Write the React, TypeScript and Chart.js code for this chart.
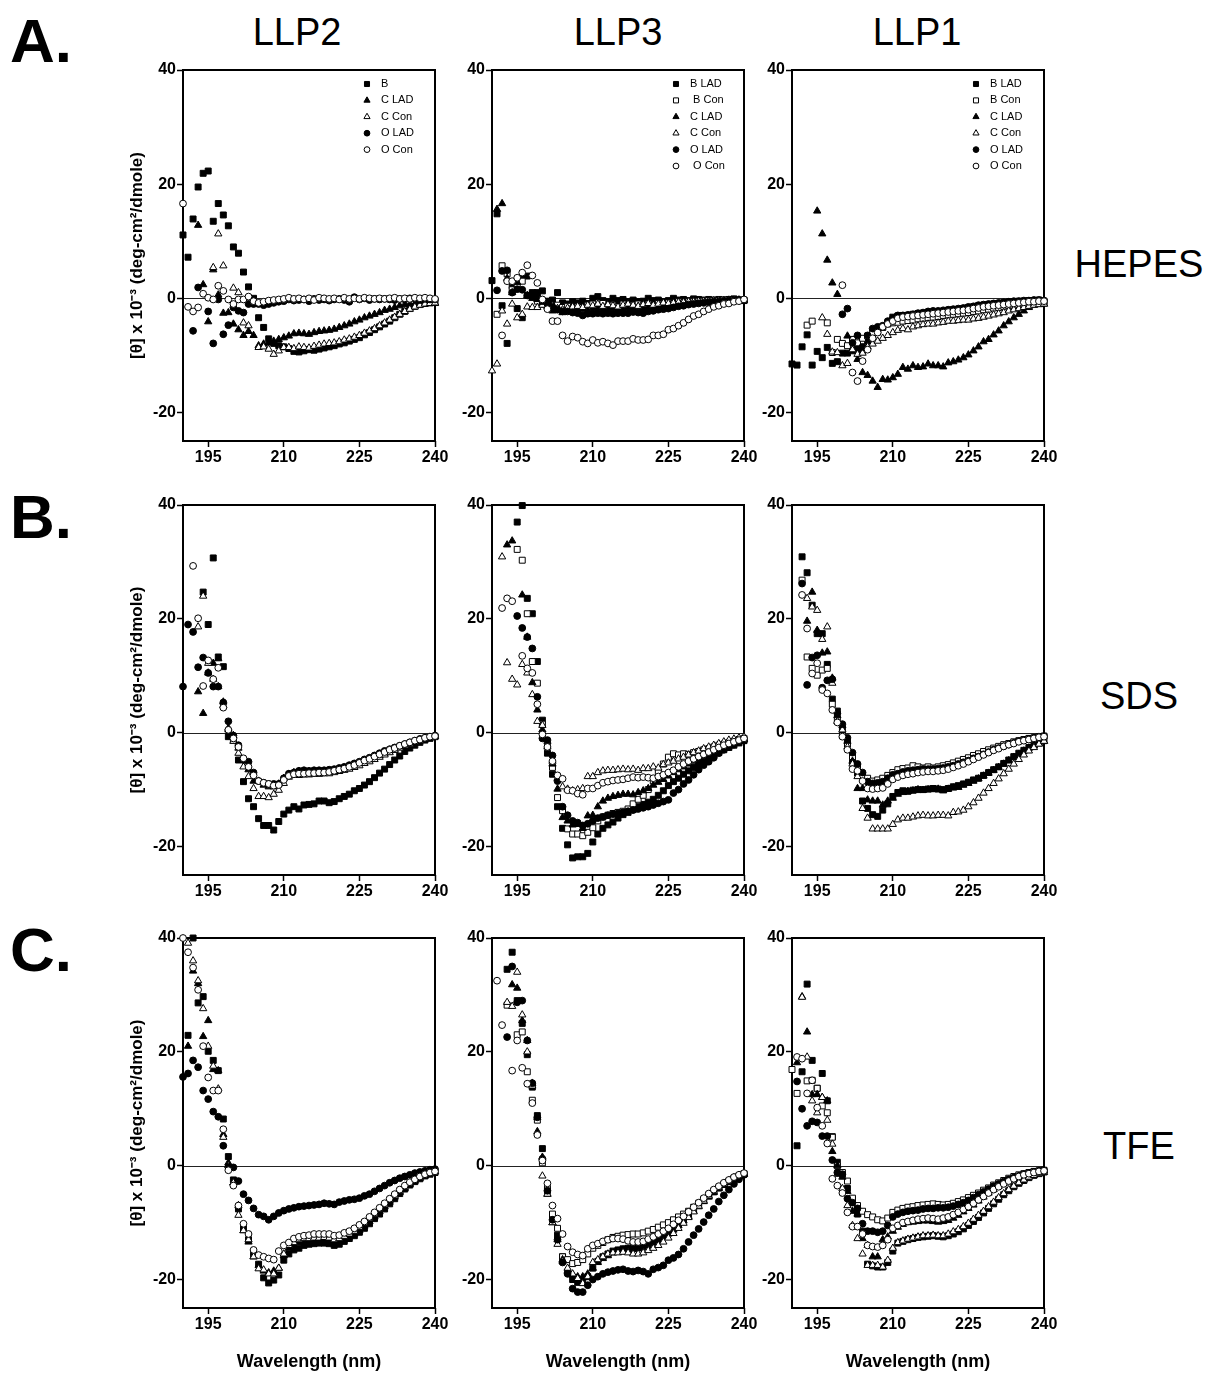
import React, { useEffect, useRef } from 'react';
import { Chart, registerables } from 'chart.js';
import { drawPoint } from 'chart.js/helpers';

Chart.register(...registerables);

const _ = null;

// ---------- categories / ticks / labels ----------
const WAVELENGTH = [
  190, 191, 192, 193, 194, 195, 196, 197, 198, 199,
  200, 201, 202, 203, 204, 205, 206, 207, 208, 209,
  210, 211, 212, 213, 214, 215, 216, 217, 218, 219,
  220, 221, 222, 223, 224, 225, 226, 227, 228, 229,
  230, 231, 232, 233, 234, 235, 236, 237, 238, 239,
  240,
];
const X_TICKS = [195, 210, 225, 240];
const Y_TICKS = [-20, 0, 20, 40];
const COLUMN_TITLES = ['LLP2', 'LLP3', 'LLP1'];
const ROW_LETTERS = ['A.', 'B.', 'C.'];
const SOLVENTS = ['HEPES', 'SDS', 'TFE'];
const Y_TITLE = '[\u03b8] x 10\u207b\u00b3 (deg-cm\u00b2/dmole)';
const X_TITLE = 'Wavelength (nm)';
const NAMES_LLP2 = ['B', 'C LAD', 'C Con', 'O LAD', 'O Con'];
const NAMES_LLP3 = ['B LAD', ' B Con', 'C LAD', 'C Con', 'O LAD', ' O Con'];
const NAMES_LLP1 = ['B LAD', 'B Con', 'C LAD', 'C Con', 'O LAD', 'O Con'];

// ---------- A: HEPES ----------
const A1_B = [
  11.1, 7.2, 13.9, 19.5, 21.9, 22.3, 13.5, 16.6, 14.6, 12.7,
  9.0, 7.9, 4.6, 2.0, 0.0, -3.4, -5.1, -7.1, -7.9, -8.3,
  -8.5, -8.8, -9.3, -9.4, -9.2, -9.0, -9.1, -8.9, -8.7, -8.5,
  -8.3, -8.0, -7.8, -7.5, -7.2, -6.9, -6.4, -6.0, -5.5, -5.0,
  -4.5, -4.0, -3.4, -2.8, -2.3, -1.8, -1.4, -1.1, -0.9, -0.8,
  -0.7,
];
const A1_CLAD = [
  _, _, _, 12.8, 2.4, -4.1, 5.0, 0.6, -2.6, -2.5,
  -4.5, -5.5, -6.5, -5.8, -6.5, -8.3, -8.0, -7.8, -7.5, -7.2,
  -6.9, -6.6, -6.2, -6.1, -6.2, -6.3, -6.0, -5.8, -5.7, -5.6,
  -5.4, -5.1, -4.8, -4.5, -4.1, -3.8, -3.4, -3.1, -2.8, -2.5,
  -2.1, -1.9, -1.6, -1.3, -1.1, -1.0, -1.0, -0.9, -0.9, -0.9,
  -0.9,
];
const A1_CCON = [
  _, _, _, _, _, _, 5.4, 11.3, 5.7, _,
  1.8, 1.0, -4.3, -4.8, _, -8.6, -8.5, -8.9, -9.8, -9.2,
  -8.6, -8.6, -8.8, -8.5, -8.6, -8.7, -8.4, -8.2, -8.0, -7.9,
  -7.8, -7.6, -7.3, -7.1, -6.8, -6.5, -6.1, -5.7, -5.3, -4.8,
  -4.3, -3.8, -3.3, -2.8, -2.3, -1.9, -1.5, -1.2, -1.0, -0.9,
  -0.8,
];
const A1_OLAD = [
  _, _, -5.7, 1.9, _, -2.3, -7.9, -0.2, -6.3, -4.7,
  -1.6, -2.2, -2.5, -1.0, -1.0, -1.0, -1.2, -1.0, -0.8, -0.6,
  -0.5, -0.2, -0.4, -0.3, -0.2, -0.5, -0.1, -0.3, -0.2, -0.4,
  -0.2, -0.1, -0.3, -0.6, 0.2, -0.2, 0.0, -0.3, -0.1, -0.2,
  -0.1, -0.2, -0.3, -0.1, -0.2, 0.0, -0.1, -0.3, -0.1, -0.2,
  -0.2,
];
const A1_OCON = [
  16.6, -1.5, -2.3, -1.6, 0.8, 0.1, -0.2, 2.2, 1.3, -0.2,
  -1.0, -0.2, -0.2, 0.3, -0.5, -0.8, -0.6, -0.4, -0.3, -0.2,
  -0.1, 0.1, -0.1, 0.0, -0.2, 0.0, -0.3, 0.1, 0.0, -0.1,
  0.0, -0.2, 0.1, -0.1, 0.0, -0.1, 0.1, 0.0, -0.1, 0.0,
  -0.1, 0.0, 0.1, -0.1, 0.0, -0.1, 0.1, 0.0, 0.1, 0.0,
  -0.1,
];

const A2_BLAD = [
  3.1, 14.8, -1.3, -7.9, 2.2, -1.8, -3.4, 3.9, 1.0, 1.0,
  1.3, -0.5, -0.3, 1.0, -0.8, -1.0, -0.6, -0.8, -0.5, -0.9,
  0.0, 0.3, -0.4, -0.6, 0.0, -0.4, -0.2, -0.6, -0.3, -0.6,
  -0.5, 0.0, -0.4, -0.3, -0.6, -0.4, 0.0, -0.3, -0.2, -0.4,
  -0.1, -0.2, -0.3, -0.2, -0.3, -0.2, -0.3, -0.2, -0.1, -0.3,
  -0.4,
];
const A2_BCON = [
  _, -2.8, 5.7, 4.3, 1.5, 2.3, 3.0, 0.5, 0.3, -0.5,
  -1.0, -1.5, -1.5, -1.2, -1.6, -1.4, -1.8, -1.5, -1.6, -1.2,
  -1.0, -1.4, -0.9, -1.4, -1.2, -1.5, -1.0, -1.3, -1.2, -1.0,
  -1.2, -1.0, -1.4, -0.9, -1.1, -0.8, -0.9, -0.6, -0.8, -0.6,
  -0.6, -0.5, -0.5, -0.4, -0.4, -0.4, -0.3, -0.3, -0.3, -0.3,
  -0.3,
];
const A2_CLAD = [
  _, 15.6, 16.6, 3.5, 1.0, 2.8, 4.0, 0.5, 0.0, -0.2,
  -1.0, -1.3, -2.2, -1.8, -2.5, -2.2, -2.0, -1.8, -2.0, -2.2,
  -1.8, -1.6, -2.0, -1.8, -1.7, -1.9, -2.1, -1.6, -1.8, -1.5,
  -1.7, -1.6, -1.3, -1.5, -1.2, -1.1, -1.2, -0.9, -0.8, -0.8,
  -0.7, -0.6, -0.6, -0.5, -0.5, -0.5, -0.4, -0.4, -0.4, -0.3,
  -0.4,
];
const A2_CCON = [
  -12.7, -11.5, -2.2, -4.5, -1.0, -3.4, -2.8, -1.5, -1.6, -1.6,
  -1.2, -1.5, -1.3, -1.8, -2.0, -1.7, -1.5, -1.4, -1.6, -1.2,
  -1.3, -1.0, -1.4, -1.1, -1.3, -1.5, -1.2, -1.0, -1.2, -1.4,
  -1.1, -0.9, -1.2, -1.0, -0.8, -0.9, -0.8, -0.7, -0.7, -0.6,
  -0.6, -0.5, -0.5, -0.5, -0.4, -0.4, -0.4, -0.3, -0.3, -0.3,
  -0.4,
];
const A2_OLAD = [
  _, 1.4, 4.8, 4.9, 1.0, 1.6, 1.5, 0.5, 0.8, 0.2,
  -0.5, -1.0, -1.5, -2.0, -2.3, -2.3, -2.5, -2.6, -3.0, -2.7,
  -2.7, -2.6, -2.7, -2.6, -2.7, -2.6, -2.6, -2.6, -2.4, -2.5,
  -2.6, -2.3, -2.2, -2.0, -1.9, -1.8, -1.6, -1.4, -1.3, -1.1,
  -1.0, -0.9, -0.8, -0.7, -0.6, -0.6, -0.5, -0.4, -0.4, -0.3,
  -0.4,
];
const A2_OCON = [
  _, _, -6.5, 3.0, 3.0, 3.6, 4.5, 5.8, 4.0, 2.7,
  -0.2, -1.9, -4.0, -4.0, -6.5, -7.5, -6.7, -6.9, -7.6, -7.9,
  -7.3, -7.8, -7.6, -7.9, -8.2, -7.5, -7.5, -7.5, -7.1, -7.3,
  -7.3, -7.2, -6.5, -6.5, -6.3, -5.5, -5.3, -4.8, -4.3, -3.7,
  -3.1, -2.8, -2.3, -1.9, -1.5, -1.3, -1.0, -0.9, -0.6, -0.5,
  -0.2,
];

const A3_BLAD = [
  -11.5, -11.7, -8.5, -6.4, -11.7, -9.3, -10.4, -8.6, -11.4, -11.1,
  -9.6, -9.6, -9.2, -8.8, -9.2, -7.5, -6.9, -5.9, -5.1, -4.3,
  -3.3, -3.1, -3.0, -3.0, -2.8, -2.7, -2.6, -2.5, -2.5, -2.4,
  -2.3, -2.1, -2.0, -1.9, -1.8, -1.6, -1.5, -1.3, -1.2, -1.1,
  -1.0, -0.9, -0.8, -0.7, -0.6, -0.5, -0.5, -0.4, -0.4, -0.3,
  -0.5,
];
const A3_BCON = [
  _, _, _, -4.7, -4.0, _, _, -4.3, -9.5, -7.2,
  -7.9, -8.3, -7.2, -7.8, -7.0, -6.6, -6.0, -5.5, -5.0, -4.5,
  -4.3, -4.2, -4.0, -3.9, -3.8, -3.6, -3.5, -3.4, -3.3, -3.2,
  -3.0, -2.9, -2.8, -2.7, -2.6, -2.5, -2.3, -2.2, -2.0, -1.9,
  -1.7, -1.6, -1.4, -1.3, -1.2, -1.1, -1.0, -0.9, -0.8, -0.7,
  -0.7,
];
const A3_CLAD = [
  _, _, _, _, _, 15.3, 11.3, 6.7, 2.7, 0.7,
  _, -6.6, _, -10.7, -13.0, -13.5, -14.5, -15.6, -14.2, -14.3,
  -13.9, -13.3, -12.1, -12.4, -11.8, -12.1, -12.0, -11.5, -11.8, -11.8,
  -12.0, -11.3, -11.1, -10.8, -10.4, -9.9, -9.2, -8.5, -7.6, -7.2,
  -6.4, -5.7, -4.8, -4.1, -3.4, -2.8, -2.2, -1.6, -1.2, -1.0,
  -1.0,
];
const A3_CCON = [
  _, _, _, _, _, _, -3.4, -6.3, -9.4, -9.5,
  -11.8, -11.4, -9.0, -9.8, -9.6, -8.5, -8.0, -7.5, -7.0, -6.5,
  -6.0, -5.6, -5.3, -5.5, -5.0, -4.8, -4.6, -4.5, -4.5, -4.3,
  -4.2, -4.0, -4.0, -3.9, -3.8, -3.8, -3.6, -3.5, -3.3, -3.1,
  -2.9, -2.7, -2.5, -2.2, -2.0, -1.8, -1.6, -1.4, -1.2, -1.1,
  -1.0,
];
const A3_OLAD = [
  _, _, _, _, _, _, _, _, _, _,
  -2.8, -1.8, -7.8, -6.5, -8.5, -6.5, -5.3, -5.0, -4.8, -4.0,
  -3.5, -3.0, -3.0, -2.9, -2.8, -2.6, -2.5, -2.3, -2.2, -2.2,
  -2.1, -2.0, -1.9, -1.8, -1.7, -1.5, -1.4, -1.2, -1.1, -1.0,
  -0.9, -0.8, -0.7, -0.6, -0.5, -0.5, -0.4, -0.4, -0.3, -0.3,
  -0.4,
];
const A3_OCON = [
  _, _, _, _, _, _, _, _, _, _,
  2.3, _, -13.0, -14.5, -11.0, -9.0, -7.0, -6.0, -5.0, -4.5,
  -4.0, -3.5, -3.3, -3.2, -3.1, -3.0, -2.9, -2.8, -2.7, -2.6,
  -2.5, -2.4, -2.3, -2.2, -2.1, -2.0, -1.8, -1.7, -1.5, -1.4,
  -1.3, -1.2, -1.1, -1.0, -0.9, -0.8, -0.7, -0.6, -0.6, -0.5,
  -0.5,
];

// ---------- B: SDS ----------
const B1_B = [
  _, _, _, _, 24.7, 19.0, 30.7, 13.3, 11.6, -0.7,
  -1.3, -4.8, -8.6, -11.6, -13.0, -15.1, -16.3, -16.3, -17.1, -15.6,
  -14.3, -13.6, -13.0, -13.4, -12.7, -12.6, -12.5, -12.0, -12.0, -12.3,
  -12.1, -11.6, -11.2, -10.8, -10.2, -9.8, -9.2, -8.6, -7.9, -7.1,
  -6.4, -5.6, -4.8, -4.1, -3.3, -2.7, -2.2, -1.7, -1.3, -1.0,
  -0.7,
];
const B1_CLAD = [
  _, _, _, 7.2, 3.4, 10.5, 12.2, 13.0, 5.4, 0.8,
  -0.5, -2.7, -4.8, -6.5, -8.5, -8.5, -9.2, -9.5, -9.5, -9.0,
  -8.0, -7.3, -7.0, -6.8, -6.8, -6.9, -6.8, -6.8, -6.9, -6.8,
  -6.6, -6.4, -6.2, -6.0, -5.7, -5.4, -5.1, -4.8, -4.4, -4.0,
  -3.6, -3.2, -2.9, -2.5, -2.2, -1.9, -1.6, -1.3, -1.0, -0.8,
  -0.6,
];
const B1_CCON = [
  _, _, _, 18.6, 24.0, 12.2, 9.4, 8.1, 4.8, 0.5,
  -1.5, -3.6, -6.0, -7.7, -9.8, -11.2, -11.2, -11.4, -10.8, -10.1,
  -8.9, -7.8, -7.5, -7.5, -7.4, -7.4, -7.3, -7.3, -7.2, -7.2,
  -7.0, -6.8, -6.6, -6.4, -6.1, -5.8, -5.4, -5.1, -4.7, -4.3,
  -3.9, -3.5, -3.1, -2.7, -2.3, -2.0, -1.7, -1.4, -1.1, -0.9,
  -0.7,
];
const B1_OLAD = [
  8.1, 19.0, 17.7, 11.5, 13.2, 10.5, 8.1, 8.1, 5.3, 2.0,
  -0.5, -2.2, -4.8, -5.1, -7.0, -8.5, -8.8, -9.0, -9.0, -9.0,
  -8.0, -7.2, -7.0, -6.7, -6.6, -6.7, -6.6, -6.6, -6.6, -6.5,
  -6.4, -6.2, -6.0, -5.7, -5.4, -5.1, -4.7, -4.4, -4.0, -3.6,
  -3.2, -2.9, -2.6, -2.3, -2.0, -1.7, -1.4, -1.1, -0.9, -0.7,
  -0.5,
];
const B1_OCON = [
  _, _, 29.3, 20.1, 8.2, 12.7, 9.4, 11.4, 4.4, 0.5,
  -1.0, -2.5, -4.5, -6.0, -7.5, -8.5, -8.8, -9.0, -9.3, -9.2,
  -8.3, -7.6, -7.3, -7.2, -7.2, -7.1, -7.1, -7.0, -7.0, -6.9,
  -6.7, -6.5, -6.3, -6.0, -5.7, -5.3, -4.9, -4.6, -4.2, -3.8,
  -3.4, -3.0, -2.7, -2.3, -2.0, -1.7, -1.4, -1.2, -0.9, -0.7,
  -0.6,
];

const B2_BLAD = [
  _, _, _, _, _, 37.0, 39.9, 23.6, 20.9, 12.5,
  2.2, -3.6, -7.3, -13.0, -16.8, -19.7, -22.0, -21.8, -21.8, -21.2,
  -19.2, -17.8, -16.8, -16.2, -15.7, -15.0, -14.4, -14.0, -13.5, -13.0,
  -12.6, -12.2, -11.7, -11.0, -10.2, -9.3, -8.6, -8.0, -7.3, -6.7,
  -6.1, -5.5, -5.0, -4.5, -4.0, -3.5, -3.0, -2.6, -2.2, -1.8,
  -1.4,
];
const B2_BCON = [
  _, _, _, _, _, 32.2, 30.3, 20.9, 12.5, 8.7,
  1.5, -2.3, -6.1, -11.4, -13.7, -16.9, -17.8, -17.8, -18.1, -17.5,
  -16.7, -15.5, -14.8, -14.5, -14.2, -14.0, -13.8, -13.4, -12.5, -11.7,
  -11.0, -10.0, -8.5, -7.0, -5.5, -4.3, -3.7, -3.9, -3.7, -3.8,
  -3.5, -3.3, -3.0, -2.8, -2.5, -2.2, -2.0, -1.7, -1.5, -1.2,
  -1.0,
];
const B2_CLAD = [
  _, _, _, 33.0, 33.7, _, 24.2, 16.8, 8.8, 4.0,
  0.5, -2.5, -5.5, -9.9, -14.9, -15.5, -16.2, -16.1, -16.8, -14.6,
  -14.5, -13.0, -12.0, -11.5, -11.2, -11.0, -10.8, -10.8, -10.9, -10.5,
  -10.2, -9.8, -9.2, -8.7, -8.2, -7.6, -7.0, -6.5, -6.0, -5.5,
  -5.0, -4.5, -4.0, -3.6, -3.2, -2.8, -2.4, -2.1, -1.8, -1.5,
  -1.2,
];
const B2_CCON = [
  _, _, 30.9, 12.3, 9.4, 8.4, 12.0, 10.5, 6.7, 2.0,
  1.3, -1.5, -5.0, -8.0, -9.5, -9.9, -10.2, -10.0, -9.8, -7.7,
  -7.7, -7.0, -6.7, -6.6, -6.6, -6.5, -6.4, -6.5, -6.4, -6.6,
  -6.3, -6.3, -6.0, -6.2, -5.6, -5.3, -5.0, -4.6, -4.3, -3.9,
  -3.5, -3.2, -2.8, -2.5, -2.2, -1.9, -1.6, -1.3, -1.1, -0.9,
  -0.7,
];
const B2_OLAD = [
  _, _, _, _, _, 20.5, 18.4, 16.8, 14.8, 6.3,
  -1.0, -1.3, -4.0, -8.5, -13.0, -14.5, -15.5, -15.8, -16.3, -16.0,
  -15.5, -15.0, -14.8, -14.5, -14.3, -14.2, -14.0, -13.8, -13.6, -13.4,
  -13.2, -13.0, -12.7, -12.4, -12.1, -11.8, -10.6, -10.0, -9.0, -8.3,
  -7.4, -6.5, -5.7, -5.1, -4.4, -3.6, -3.0, -2.5, -2.1, -1.7,
  -1.4,
];
const B2_OCON = [
  _, _, 21.9, 23.6, 23.1, _, 13.5, 11.3, 10.5, 5.0,
  -0.3, -2.5, -5.0, -7.5, -8.1, -10.1, -10.2, -10.7, -10.9, -9.8,
  -9.8, -9.3, -8.8, -8.6, -8.4, -8.3, -8.2, -8.0, -7.8, -7.9,
  -7.8, -7.9, -8.0, -7.7, -7.4, -7.0, -6.6, -6.0, -5.5, -5.0,
  -4.6, -4.2, -3.8, -3.4, -3.0, -2.6, -2.2, -1.9, -1.6, -1.3,
  -1.0,
];

const B3_BLAD = [
  _, _, 30.9, 28.1, 22.4, 17.4, 17.4, 12.0, 5.9, 3.8,
  0.5, -1.5, -5.1, -7.1, -12.0, -13.3, -14.4, -14.7, -13.6, -12.5,
  -11.2, -10.5, -10.2, -10.3, -10.1, -10.0, -10.0, -9.9, -9.8, -9.9,
  -10.0, -9.8, -9.5, -9.3, -9.0, -8.7, -8.3, -8.0, -7.5, -7.0,
  -6.5, -6.0, -5.4, -4.8, -4.2, -3.6, -3.1, -2.6, -2.2, -1.8,
  -1.4,
];
const B3_BCON = [
  _, _, 26.8, 13.3, 11.3, 10.1, 11.0, 11.3, 5.0, 2.5,
  -0.5, -2.0, -4.2, -6.0, -7.5, -8.0, -8.5, -8.3, -8.0, -7.5,
  -7.0, -6.5, -6.3, -6.2, -5.8, -6.0, -6.2, -6.0, -6.2, -6.0,
  -5.8, -5.6, -5.3, -5.0, -4.7, -4.4, -4.0, -3.7, -3.3, -3.0,
  -2.7, -2.4, -2.1, -1.9, -1.6, -1.4, -1.2, -1.0, -0.9, -0.7,
  -0.6,
];
const B3_CLAD = [
  _, _, _, 19.6, 24.7, 18.0, 14.0, 14.2, 9.6, 3.0,
  1.3, -1.5, -5.0, -9.8, -9.8, -11.8, -12.0, -12.0, -12.7, -12.0,
  -11.5, -10.8, -10.5, -10.3, -10.2, -10.0, -10.1, -10.0, -10.0, -9.9,
  -10.2, -9.9, -9.7, -9.6, -9.2, -8.9, -8.5, -8.1, -7.6, -7.1,
  -6.6, -6.1, -5.5, -4.9, -4.3, -3.8, -3.2, -2.7, -2.3, -1.9,
  -1.5,
];
const B3_CCON = [
  _, _, _, 23.6, 22.1, 21.5, 16.4, 18.6, 8.7, 2.0,
  0.5, -2.5, -5.5, -7.7, -13.3, -15.0, -16.9, -16.9, -16.9, -16.9,
  -16.1, -15.3, -15.0, -15.0, -14.8, -14.6, -14.5, -14.6, -14.6, -14.5,
  -14.5, -14.6, -14.0, -13.9, -13.6, -13.0, -12.3, -11.5, -10.6, -9.8,
  -8.9, -8.1, -7.2, -6.4, -5.5, -4.7, -3.9, -3.2, -2.6, -2.0,
  -1.5,
];
const B3_OLAD = [
  _, _, 26.2, 8.4, 13.2, 13.6, 7.9, 9.2, 9.4, 3.4,
  1.5, -0.9, -3.5, -5.5, -7.0, -8.6, -8.9, -8.8, -8.6, -8.0,
  -7.4, -7.2, -6.9, -6.7, -6.6, -6.5, -6.4, -6.4, -6.4, -6.3,
  -6.2, -6.0, -5.8, -5.5, -5.2, -4.9, -4.5, -4.2, -3.8, -3.4,
  -3.0, -2.7, -2.4, -2.1, -1.8, -1.5, -1.3, -1.1, -0.9, -0.7,
  -0.6,
];
const B3_OCON = [
  _, _, 24.2, 18.3, 10.4, 12.2, 7.5, 6.9, 4.0, 1.8,
  -0.7, -3.0, -6.4, -6.7, -8.5, -9.8, -9.9, -9.8, -9.7, -9.0,
  -8.2, -7.8, -7.5, -7.3, -7.2, -7.0, -6.9, -6.8, -6.8, -6.7,
  -6.6, -6.4, -6.1, -5.8, -5.5, -5.1, -4.7, -4.3, -3.9, -3.5,
  -3.1, -2.8, -2.4, -2.1, -1.9, -1.6, -1.4, -1.2, -1.0, -0.8,
  -0.7,
];

// ---------- C: TFE ----------
const C1_B = [
  _, 22.9, 40.0, 28.6, 29.7, 20.1, 18.5, 16.7, 8.2, 1.6,
  -2.5, -7.6, -11.0, -13.0, -15.5, -17.3, -19.7, -20.6, -20.1, -19.2,
  -16.6, -15.5, -14.8, -14.5, -14.0, -13.8, -13.7, -13.6, -13.6, -13.7,
  -14.0, -13.8, -13.3, -12.8, -12.3, -11.7, -11.0, -10.2, -9.3, -8.5,
  -7.6, -6.7, -5.8, -4.9, -4.1, -3.4, -2.8, -2.3, -1.8, -1.5,
  -1.2,
];
const C1_CLAD = [
  _, 21.0, 34.2, 32.0, 22.7, 25.5, 16.9, 16.7, 5.5, 0.5,
  -3.0, -7.0, -11.4, -13.4, -16.0, -17.5, -18.5, -18.8, -18.5, -18.0,
  -15.8, -14.5, -14.0, -13.5, -13.4, -13.2, -13.2, -13.3, -13.1, -13.3,
  -13.6, -13.4, -13.0, -12.5, -12.0, -11.4, -10.6, -9.8, -9.0, -8.1,
  -7.2, -6.4, -5.5, -4.7, -4.0, -3.3, -2.7, -2.2, -1.8, -1.4,
  -1.1,
];
const C1_CCON = [
  _, 39.1, 36.0, 32.5, 27.6, 21.0, 17.5, 13.5, 5.0, 0.0,
  -3.0, -8.7, -11.4, -13.0, -16.0, -18.1, -18.3, -19.0, -19.0, -18.0,
  -15.5, -14.0, -13.5, -13.0, -12.8, -12.8, -12.7, -12.7, -12.6, -12.7,
  -13.0, -12.8, -12.4, -12.0, -11.5, -10.8, -10.1, -9.3, -8.5, -7.7,
  -6.9, -6.1, -5.3, -4.5, -3.8, -3.1, -2.5, -2.0, -1.6, -1.3,
  -1.0,
];
const C1_OLAD = [
  15.6, 16.2, 18.5, 17.3, 13.2, 11.7, 9.5, 8.6, 3.5, -0.2,
  -0.3, -2.7, -5.0, -6.1, -7.5, -8.6, -8.9, -9.5, -8.9, -8.3,
  -7.9, -7.6, -7.4, -7.2, -7.1, -7.0, -6.9, -6.8, -6.6, -6.7,
  -6.8, -6.4, -6.2, -6.0, -5.9, -5.7, -5.3, -5.0, -4.5, -4.0,
  -3.5, -3.0, -2.6, -2.2, -1.9, -1.6, -1.3, -1.1, -0.9, -0.7,
  -0.6,
];
const C1_OCON = [
  40.0, 37.5, 34.8, 30.9, 21.0, 15.5, 13.2, 13.2, 6.4, -0.8,
  -3.5, -7.0, -10.2, -12.0, -14.8, -15.7, -16.0, -16.3, -16.5, -15.0,
  -14.0, -13.5, -12.8, -12.5, -12.3, -12.2, -12.0, -12.0, -12.0, -12.0,
  -12.3, -12.2, -11.8, -11.5, -11.0, -10.4, -9.8, -9.0, -8.2, -7.4,
  -6.6, -5.8, -5.0, -4.2, -3.5, -2.9, -2.4, -1.9, -1.5, -1.2,
  -1.0,
];

const C2_BLAD = [
  _, _, _, 34.5, 37.5, 29.0, 25.0, 19.5, 13.8, 8.8,
  3.0, -4.4, -9.3, -12.2, -16.0, -18.7, -20.0, -20.5, -20.2, -19.5,
  -18.0, -16.8, -16.0, -15.5, -15.0, -14.8, -14.6, -14.5, -14.3, -14.2,
  -14.0, -13.6, -13.2, -12.8, -12.2, -11.6, -10.9, -10.1, -9.3, -8.5,
  -7.7, -6.9, -6.1, -5.3, -4.6, -3.9, -3.3, -2.8, -2.3, -1.8,
  -1.5,
];
const C2_BCON = [
  _, _, _, 28.2, _, 23.0, 23.5, 16.5, 11.5, 8.0,
  0.5, -4.0, -8.5, -11.0, -16.0, -16.5, -17.2, -17.0, -16.5, -15.5,
  -14.5, -14.0, -13.5, -13.0, -12.6, -12.4, -12.2, -12.1, -12.0, -12.0,
  -11.8, -11.5, -11.2, -10.8, -10.4, -10.0, -9.5, -9.0, -8.5, -8.0,
  -7.3, -6.6, -5.9, -5.2, -4.5, -3.9, -3.3, -2.7, -2.2, -1.8,
  -1.4,
];
const C2_CLAD = [
  _, _, _, _, 31.8, 31.2, 25.5, 22.0, 14.5, 6.0,
  1.5, -5.0, -10.0, -13.0, -16.5, -18.5, -19.2, -19.5, -19.5, -19.0,
  -18.0, -17.0, -16.3, -15.8, -15.3, -15.0, -14.8, -14.7, -14.7, -14.6,
  -14.4, -14.0, -13.6, -13.1, -12.6, -12.0, -11.3, -10.5, -9.7, -8.9,
  -8.0, -7.2, -6.3, -5.5, -4.7, -4.0, -3.4, -2.8, -2.3, -1.9,
  -1.5,
];
const C2_CCON = [
  _, _, _, 28.7, 28.0, 34.0, 26.5, 20.0, 14.0, 8.5,
  -1.8, -5.0, -10.0, -13.8, -16.8, -18.0, -19.0, -19.8, -20.7, -19.5,
  -17.0, -16.5, -16.0, -15.5, -15.3, -15.3, -15.2, -15.3, -15.5, -15.5,
  -15.3, -14.9, -14.5, -14.0, -13.4, -12.7, -11.9, -11.0, -10.1, -9.1,
  -8.1, -7.1, -6.2, -5.3, -4.5, -3.8, -3.2, -2.6, -2.1, -1.7,
  -1.4,
];
const C2_OLAD = [
  _, _, _, 22.6, 35.0, 28.7, 29.0, 22.0, 14.5, 8.5,
  1.2, -4.4, -9.5, -13.0, -17.0, -19.0, -21.6, -22.2, -22.2, -21.0,
  -20.0, -19.5, -19.0, -18.7, -18.5, -18.3, -18.2, -18.5, -18.6, -18.4,
  -18.6, -19.0, -18.2, -17.9, -17.5, -16.6, -16.2, -15.6, -14.6, -13.4,
  -12.2, -11.1, -9.9, -8.7, -7.6, -6.3, -5.2, -4.2, -3.2, -2.4,
  -1.6,
];
const C2_OCON = [
  _, 32.5, 24.7, _, 16.7, 22.0, 17.2, 14.4, 11.0, 5.4,
  0.9, -3.1, -7.0, -9.3, -12.0, -14.2, -15.2, -15.6, -15.8, -14.6,
  -14.0, -13.7, -13.3, -13.0, -12.8, -12.8, -12.9, -13.2, -13.4, -13.4,
  -13.3, -12.9, -12.5, -12.0, -11.5, -11.0, -10.3, -9.6, -8.9, -8.1,
  -7.3, -6.5, -5.7, -4.9, -4.2, -3.6, -3.0, -2.5, -2.0, -1.6,
  -1.3,
];

const C3_BLAD = [
  _, 3.5, 16.5, 31.9, 18.5, 13.6, 16.2, 11.4, 5.1, 0.6,
  -1.5, -4.0, -6.0, -8.5, -11.5, -17.3, -17.6, -17.8, -17.8, -17.0,
  -15.0, -13.6, -13.3, -13.0, -12.8, -12.6, -12.5, -12.4, -12.3, -12.4,
  -12.5, -12.3, -12.0, -11.6, -11.1, -10.5, -9.8, -9.1, -8.3, -7.5,
  -6.7, -5.9, -5.1, -4.4, -3.7, -3.1, -2.6, -2.1, -1.7, -1.4,
  -1.1,
];
const C3_BCON = [
  16.9, 12.7, _, 14.9, 15.0, 13.6, 10.5, 9.3, 5.0, 0.0,
  -1.2, -2.7, -5.7, -7.0, -8.0, -8.6, -9.0, -9.5, -9.7, -9.2,
  -8.2, -7.8, -7.5, -7.3, -7.2, -7.0, -6.9, -6.8, -6.7, -6.8,
  -6.9, -6.8, -6.6, -6.3, -6.0, -5.6, -5.2, -4.8, -4.3, -3.9,
  -3.4, -3.0, -2.6, -2.2, -1.9, -1.6, -1.4, -1.2, -1.0, -0.9,
  -0.8,
];
const C3_CLAD = [
  _, 18.1, 29.7, 23.5, 12.5, 12.5, 12.0, 11.4, 2.5, 0.0,
  -2.0, -4.5, -8.0, -8.5, -12.8, -14.0, -16.0, -16.0, -13.0, -12.5,
  -11.5, -10.8, -10.3, -10.0, -9.9, -9.8, -9.7, -9.7, -9.8, -9.9,
  -9.8, -9.6, -9.2, -8.7, -8.1, -7.5, -6.9, -6.2, -5.5, -4.8,
  -4.2, -3.6, -3.1, -2.7, -2.3, -1.9, -1.7, -1.4, -1.2, -1.0,
  -0.9,
];
const C3_CCON = [
  _, _, 29.6, 19.1, 11.4, 9.3, 12.0, 8.0, 3.8, -1.5,
  -4.0, -7.0, -10.5, -12.8, -15.5, -17.5, -17.5, -17.5, -17.8, -16.6,
  -14.5, -13.5, -13.2, -12.9, -12.7, -12.5, -12.3, -12.3, -12.2, -12.3,
  -12.3, -12.0, -11.6, -11.2, -10.7, -10.1, -9.4, -8.7, -8.0, -7.2,
  -6.4, -5.6, -4.9, -4.2, -3.6, -3.0, -2.5, -2.0, -1.7, -1.4,
  -1.2,
];
const C3_OLAD = [
  _, 14.8, 10.0, 7.0, 7.8, 7.6, 5.2, 5.2, 1.0, -1.2,
  -1.5, -5.8, -6.5, -7.5, -10.2, -11.5, -11.5, -11.7, -11.5, -10.5,
  -9.0, -8.5, -8.2, -8.0, -7.9, -7.8, -7.6, -7.5, -7.5, -7.4,
  -7.4, -7.3, -7.1, -6.8, -6.5, -6.1, -5.6, -5.1, -4.6, -4.1,
  -3.6, -3.2, -2.8, -2.4, -2.1, -1.8, -1.5, -1.3, -1.1, -0.9,
  -0.8,
];
const C3_OCON = [
  _, 19.1, 18.8, 12.7, 15.0, 10.2, 7.0, 3.9, -2.3, -3.5,
  -4.8, -8.2, -10.7, -10.7, -12.0, -14.0, -14.2, -14.3, -14.0, -13.0,
  -11.0, -10.5, -10.0, -9.8, -9.6, -9.4, -9.3, -9.2, -9.3, -9.4,
  -9.2, -9.0, -8.6, -8.2, -7.7, -7.2, -6.6, -6.0, -5.4, -4.8,
  -4.2, -3.7, -3.2, -2.7, -2.3, -1.9, -1.6, -1.4, -1.2, -1.0,
  -0.9,
];

// ---------- styles & layout ----------
const FONT = '"Liberation Sans", Arial, Helvetica, sans-serif';
Chart.defaults.font.family = FONT;

const MARKERS = {
  fsq: { style: 'rect', radius: 4.2, fill: '#000' },
  osq: { style: 'rect', radius: 4.2, fill: '#fff' },
  ftri: { style: 'triangle', radius: 4.2, fill: '#000' },
  otri: { style: 'triangle', radius: 4.2, fill: '#fff' },
  fcir: { style: 'circle', radius: 3.4, fill: '#000' },
  ocir: { style: 'circle', radius: 3.4, fill: '#fff' },
};
const MARKS5 = ['fsq', 'ftri', 'otri', 'fcir', 'ocir'];
const MARKS6 = ['fsq', 'osq', 'ftri', 'otri', 'fcir', 'ocir'];

const ROW_TOP = [70, 505, 938];
const ROW_BOTTOM = [441, 875, 1308];
const COL_LEFT = [183, 492, 792];
const COL_RIGHT = [435, 744, 1044];
const AXIS_W = 60;
const PAD_T = 12;
const PAD_R = 20;

const PANELS = [
  { row: 0, col: 0, series: [A1_B, A1_CLAD, A1_CCON, A1_OLAD, A1_OCON], marks: MARKS5, names: NAMES_LLP2, legend: true },
  { row: 0, col: 1, series: [A2_BLAD, A2_BCON, A2_CLAD, A2_CCON, A2_OLAD, A2_OCON], marks: MARKS6, names: NAMES_LLP3, legend: true },
  { row: 0, col: 2, series: [A3_BLAD, A3_BCON, A3_CLAD, A3_CCON, A3_OLAD, A3_OCON], marks: MARKS6, names: NAMES_LLP1, legend: true },
  { row: 1, col: 0, series: [B1_B, B1_CLAD, B1_CCON, B1_OLAD, B1_OCON], marks: MARKS5, names: NAMES_LLP2, legend: false },
  { row: 1, col: 1, series: [B2_BLAD, B2_BCON, B2_CLAD, B2_CCON, B2_OLAD, B2_OCON], marks: MARKS6, names: NAMES_LLP3, legend: false },
  { row: 1, col: 2, series: [B3_BLAD, B3_BCON, B3_CLAD, B3_CCON, B3_OLAD, B3_OCON], marks: MARKS6, names: NAMES_LLP1, legend: false },
  { row: 2, col: 0, series: [C1_B, C1_CLAD, C1_CCON, C1_OLAD, C1_OCON], marks: MARKS5, names: NAMES_LLP2, legend: false },
  { row: 2, col: 1, series: [C2_BLAD, C2_BCON, C2_CLAD, C2_CCON, C2_OLAD, C2_OCON], marks: MARKS6, names: NAMES_LLP3, legend: false },
  { row: 2, col: 2, series: [C3_BLAD, C3_BCON, C3_CLAD, C3_CCON, C3_OLAD, C3_OCON], marks: MARKS6, names: NAMES_LLP1, legend: false },
];

function geometry(p) {
  const xAxisH = p.row === 2 ? 69 : 40;
  const plotW = COL_RIGHT[p.col] - COL_LEFT[p.col];
  const plotH = ROW_BOTTOM[p.row] - ROW_TOP[p.row];
  return {
    left: COL_LEFT[p.col] - AXIS_W,
    top: ROW_TOP[p.row] - PAD_T,
    w: AXIS_W + plotW + PAD_R,
    h: PAD_T + plotH + xAxisH,
    xAxisH,
  };
}

const framePlugin = {
  id: 'panelFrame',
  beforeDatasetsDraw(chart) {
    const { ctx, chartArea: a, scales } = chart;
    const y0 = Math.round(scales.y.getPixelForValue(0)) + 0.5;
    ctx.save();
    ctx.strokeStyle = '#222';
    ctx.lineWidth = 1;
    ctx.beginPath();
    ctx.moveTo(a.left, y0);
    ctx.lineTo(a.right, y0);
    ctx.stroke();
    ctx.strokeStyle = '#000';
    ctx.lineWidth = 2;
    ctx.strokeRect(a.left, a.top, a.right - a.left, a.bottom - a.top);
    ctx.restore();
  },
};

const insideLegend = {
  id: 'insideLegend',
  afterDatasetsDraw(chart, args, opts) {
    if (!opts || !opts.labels) return;
    const { ctx, chartArea: a } = chart;
    ctx.save();
    ctx.font = '11px ' + FONT;
    ctx.textBaseline = 'middle';
    ctx.textAlign = 'left';
    opts.labels.forEach((label, i) => {
      const ds = chart.data.datasets[i];
      const x = a.right - 68;
      const y = a.top + 14 + i * 16.4;
      ctx.fillStyle = ds.pointBackgroundColor;
      ctx.strokeStyle = '#000';
      ctx.lineWidth = 1;
      drawPoint(ctx, { pointStyle: ds.pointStyle, radius: ds.pointRadius * 0.85, rotation: 0, borderWidth: 1 }, x, y);
      ctx.fillStyle = '#000';
      ctx.fillText(label, x + 14, y);
    });
    ctx.restore();
  },
};

function buildConfig(p, g) {
  const n = p.series.length;
  const datasets = p.series.map((vals, i) => {
    const m = MARKERS[p.marks[i]];
    return {
      label: p.names[i].trim(),
      data: WAVELENGTH.map((x, k) => ({ x, y: vals[k] })).filter((d) => d.y !== null),
      pointStyle: m.style,
      pointRadius: m.radius,
      pointHoverRadius: m.radius,
      pointBackgroundColor: m.fill,
      pointBorderColor: '#000',
      pointBorderWidth: 1,
      showLine: false,
      clip: false,
      order: n - i,
    };
  });
  const tickFont = { family: FONT, size: 16, weight: 'bold' };
  return {
    type: 'scatter',
    data: { datasets },
    options: {
      animation: false,
      responsive: false,
      maintainAspectRatio: false,
      devicePixelRatio: 1,
      events: [],
      layout: { padding: { left: 0, top: PAD_T, right: PAD_R, bottom: 0 } },
      plugins: {
        legend: { display: false },
        tooltip: { enabled: false },
        insideLegend: { labels: p.legend ? p.names : null },
      },
      scales: {
        x: {
          type: 'linear',
          position: 'bottom',
          min: 190,
          max: 240,
          afterBuildTicks: (s) => { s.ticks = X_TICKS.map((v) => ({ value: v })); },
          afterFit: (s) => { s.height = g.xAxisH; },
          ticks: { font: tickFont, color: '#000', padding: 1, maxRotation: 0, autoSkip: false },
          grid: { display: true, drawOnChartArea: false, drawTicks: true, tickLength: 6, tickWidth: 1.5, tickColor: '#000' },
          border: { display: false },
          title: {
            display: p.row === 2,
            text: X_TITLE,
            color: '#000',
            font: { family: FONT, size: 18, weight: 'bold' },
            padding: { top: 0, bottom: 4 },
          },
        },
        y: {
          type: 'linear',
          position: 'left',
          min: -25,
          max: 40,
          afterBuildTicks: (s) => { s.ticks = Y_TICKS.map((v) => ({ value: v })); },
          afterFit: (s) => { s.width = AXIS_W; },
          ticks: { font: tickFont, color: '#000', padding: 1, autoSkip: false },
          grid: { display: true, drawOnChartArea: false, drawTicks: true, tickLength: 6, tickWidth: 1.5, tickColor: '#000' },
          border: { display: false },
          title: {
            display: p.col === 0,
            text: Y_TITLE,
            color: '#000',
            font: { family: FONT, size: 17, weight: 'bold' },
            padding: { top: 4, bottom: 0 },
          },
        },
      },
    },
    plugins: [framePlugin, insideLegend],
  };
}

function Panel({ p }) {
  const ref = useRef(null);
  const g = geometry(p);
  useEffect(() => {
    const chart = new Chart(ref.current, buildConfig(p, g));
    return () => chart.destroy();
  }, []);
  return (
    <canvas
      ref={ref}
      width={g.w}
      height={g.h}
      style={{ position: 'absolute', left: g.left, top: g.top, width: g.w, height: g.h }}
    />
  );
}

function Label({ text, x, baseline, size, bold, center }) {
  const style: any = {
    position: 'absolute',
    top: baseline - 0.8465 * size,
    left: x,
    fontSize: size,
    lineHeight: 1,
    fontWeight: bold ? 'bold' : 'normal',
    whiteSpace: 'pre',
    color: '#000',
    fontFamily: FONT,
  };
  if (center) style.transform = 'translateX(-50%)';
  return <div style={style}>{text}</div>;
}

const TITLE_X = [297, 618, 917];
const LETTER_BASE = [62, 538, 971];
const SOLVENT_BASE = [277, 709, 1159];

export default function App() {
  return (
    <div style={{ position: 'absolute', left: 0, top: 0, width: 1211, height: 1373, background: '#fff', overflow: 'hidden' }}>
      {ROW_LETTERS.map((t, i) => (
        <Label key={'l' + i} text={t} x={10} baseline={LETTER_BASE[i]} size={62} bold />
      ))}
      {COLUMN_TITLES.map((t, i) => (
        <Label key={'c' + i} text={t} x={TITLE_X[i]} baseline={45} size={38} center />
      ))}
      {SOLVENTS.map((t, i) => (
        <Label key={'s' + i} text={t} x={1139} baseline={SOLVENT_BASE[i]} size={38} center />
      ))}
      {PANELS.map((p, i) => (
        <Panel key={i} p={p} />
      ))}
    </div>
  );
}
